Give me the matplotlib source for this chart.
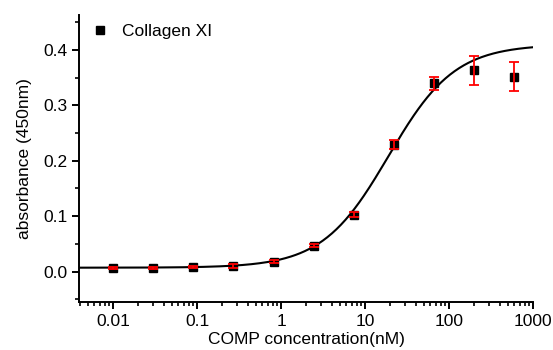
import numpy as np
import matplotlib
matplotlib.use("Agg")
import matplotlib.pyplot as plt
from matplotlib.ticker import LogLocator, MultipleLocator, FixedLocator, FixedFormatter

# measured points (3-fold dilution series)
conc = [0.01, 0.03, 0.09, 0.27, 0.82, 2.47, 7.4, 22.2, 66.7, 200, 600]
absorb = [0.006, 0.006, 0.008, 0.010, 0.018, 0.047, 0.103, 0.229, 0.340, 0.363, 0.352]
err = [0.002, 0.002, 0.002, 0.003, 0.003, 0.003, 0.004, 0.008, 0.012, 0.026, 0.026]

# dose-response fit parameters
FIT_BOTTOM = 0.007
FIT_TOP = 0.41
FIT_EC50 = 19.0
FIT_HILL = 1.1

x_ticks = [0.01, 0.1, 1, 10, 100, 1000]
x_tick_labels = ["0.01", "0.1", "1", "10", "100", "1000"]

FONT_SIZE = 12.5
plt.rcParams.update({'font.size': FONT_SIZE, 'font.family': ['Liberation Sans', 'DejaVu Sans']})

fig = plt.figure(figsize=(5.53, 3.5), dpi=100)
ax = fig.add_axes([0.143, 0.137, 0.821, 0.820])

xs = np.logspace(np.log10(0.004), 3, 400)
fit = FIT_BOTTOM + (FIT_TOP - FIT_BOTTOM) / (1 + (FIT_EC50 / xs) ** FIT_HILL)
ax.plot(xs, fit, color='k', linewidth=1.5, zorder=2)

ax.plot(conc, absorb, 's', color='k', markersize=5.5, zorder=3, label='Collagen XI')
ax.errorbar(conc, absorb, yerr=err, fmt='none', ecolor='red', elinewidth=1.3,
            capsize=3.5, capthick=1.3, zorder=4)

ax.set_xscale('log')
ax.set_xlim(10 ** -2.405, 1000)
ax.set_ylim(-0.055, 0.463)

ax.xaxis.set_major_locator(FixedLocator(x_ticks))
ax.xaxis.set_major_formatter(FixedFormatter(x_tick_labels))
ax.xaxis.set_minor_locator(LogLocator(base=10, subs=np.arange(2, 10)))
ax.yaxis.set_major_locator(MultipleLocator(0.1))
ax.yaxis.set_minor_locator(MultipleLocator(0.05))
ax.yaxis.set_major_formatter(matplotlib.ticker.FormatStrFormatter('%.1f'))

for side in ['top', 'right']:
    ax.spines[side].set_visible(False)
for side in ['left', 'bottom']:
    ax.spines[side].set_linewidth(1.4)
ax.tick_params(which='major', direction='out', length=5, width=1.4)
ax.tick_params(which='minor', direction='out', length=3, width=1.2)

ax.set_xlabel('COMP concentration(nM)', labelpad=2)
ax.set_ylabel('absorbance (450nm)', labelpad=8)

ax.legend(loc='upper left', bbox_to_anchor=(0.0, 1.01), frameon=False,
          handlelength=1.0, handletextpad=0.8, borderaxespad=0.3)

fig.savefig('out.png', dpi=100)
